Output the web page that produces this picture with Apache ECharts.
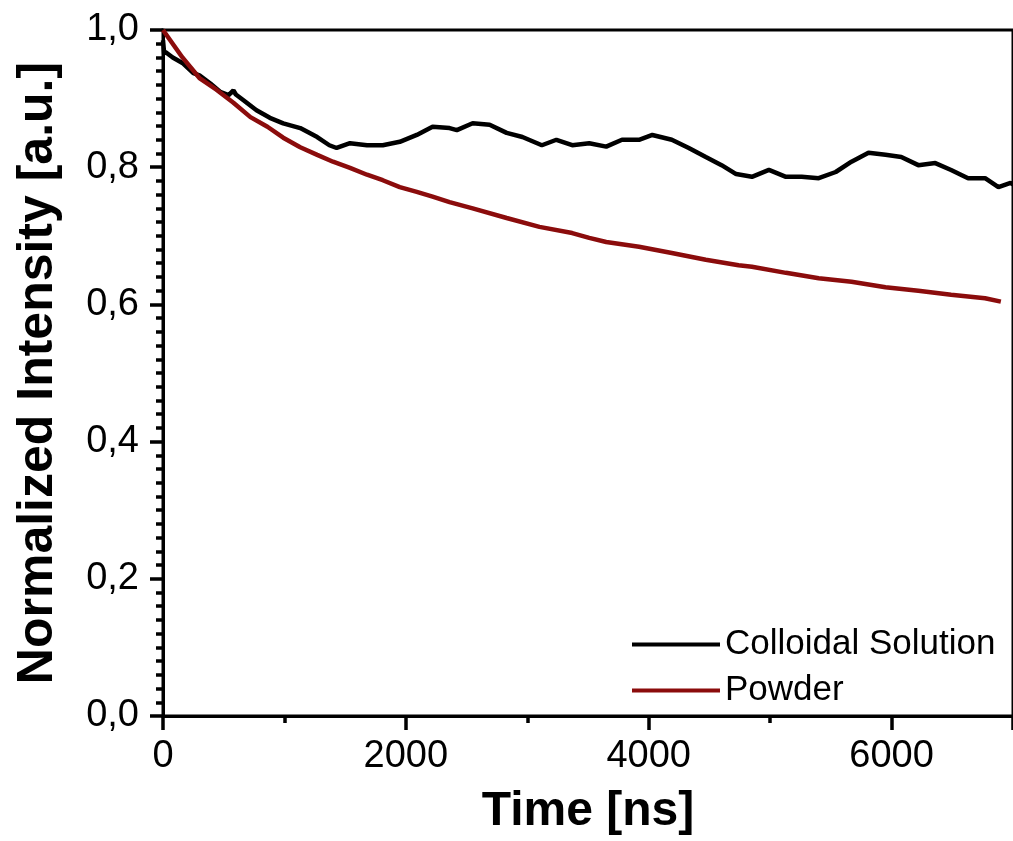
<!DOCTYPE html>
<html>
<head>
<meta charset="utf-8">
<script src="https://cdn.jsdelivr.net/npm/echarts@6/dist/echarts.min.js"></script>
<style>
  html, body { margin: 0; padding: 0; background: #fff; }
  #chart { width: 1013px; height: 841px; }
</style>
</head>
<body>
<div id="chart"></div>
<script>
// values
const colloidTime = [0, 10, 20, 80, 160, 250, 300, 390, 470, 540, 580, 600, 660, 770, 880, 990, 1130, 1270, 1370, 1430, 1540, 1680, 1810, 1950, 2090, 2220, 2360, 2420, 2550, 2690, 2830, 2960, 3120, 3240, 3370, 3510, 3650, 3780, 3920, 4030, 4190, 4330, 4470, 4600, 4720, 4850, 4990, 5130, 5260, 5400, 5540, 5670, 5810, 5950, 6080, 6220, 6360, 6490, 6630, 6770, 6880, 6980, 7000]
const colloid = [0.985, 0.965, 0.968, 0.960, 0.952, 0.937, 0.934, 0.922, 0.910, 0.905, 0.912, 0.906, 0.898, 0.883, 0.872, 0.864, 0.857, 0.844, 0.832, 0.828, 0.835, 0.832, 0.832, 0.837, 0.847, 0.859, 0.857, 0.854, 0.864, 0.862, 0.850, 0.844, 0.832, 0.840, 0.832, 0.835, 0.830, 0.840, 0.840, 0.847, 0.840, 0.828, 0.815, 0.803, 0.790, 0.786, 0.796, 0.786, 0.786, 0.784, 0.793, 0.808, 0.821, 0.818, 0.815, 0.803, 0.806, 0.796, 0.784, 0.784, 0.771, 0.777, 0.775]

const powderTime = [0, 20, 160, 300, 440, 580, 720, 860, 990, 1130, 1270, 1400, 1540, 1680, 1810, 1950, 2090, 2220, 2360, 2550, 2830, 3100, 3370, 3510, 3650, 3920, 4190, 4470, 4740, 4850, 5130, 5400, 5670, 5950, 6220, 6490, 6770, 6900]
const powder = [1.0, 0.995, 0.960, 0.930, 0.913, 0.894, 0.873, 0.859, 0.843, 0.829, 0.818, 0.808, 0.799, 0.789, 0.781, 0.771, 0.764, 0.757, 0.749, 0.740, 0.726, 0.713, 0.704, 0.697, 0.691, 0.684, 0.675, 0.665, 0.657, 0.655, 0.646, 0.638, 0.633, 0.625, 0.620, 0.614, 0.609, 0.604]

const seriesNames = ['Colloidal Solution', 'Powder']
const seriesColors = ['#000000', '#8b0c0c']

const fontFamily = 'Arial, "Liberation Sans", sans-serif'

const chart = echarts.init(document.getElementById('chart'))

const option = {
  animation: false,
  backgroundColor: '#fff',
  grid: {
    left: 163,
    right: -1,
    top: 30,
    bottom: 125,
    show: true,
    borderColor: '#000',
    borderWidth: 3
  },
  legend: {
    orient: 'vertical',
    left: 627,
    top: 622,
    itemGap: 11,
    itemWidth: 88,
    itemHeight: 4,
    icon: 'rect',
    textStyle: { fontFamily: fontFamily, fontSize: 35, color: '#000' },
    data: seriesNames
  },
  xAxis: {
    type: 'value',
    min: 0,
    max: 7000,
    interval: 2000,
    name: 'Time [ns]',
    nameLocation: 'middle',
    nameGap: 72,
    nameTextStyle: { fontFamily: fontFamily, fontSize: 48, fontWeight: 'bold', color: '#000' },
    axisLine: { show: true, lineStyle: { color: '#000', width: 3 } },
    axisTick: { show: true, length: 14, lineStyle: { color: '#000', width: 3.5 } },
    minorTick: { show: true, splitNumber: 2, length: 7, lineStyle: { color: '#000', width: 3.5 } },
    axisLabel: {
      margin: 22,
      fontFamily: fontFamily,
      fontSize: 38,
      color: '#000',
      showMaxLabel: false,
      formatter: v => String(v)
    },
    splitLine: { show: false }
  },
  yAxis: {
    type: 'value',
    min: 0,
    max: 1,
    interval: 0.2,
    name: 'Normalized Intensity [a.u.]',
    nameLocation: 'middle',
    nameGap: 100,
    nameTextStyle: { fontFamily: fontFamily, fontSize: 50, fontWeight: 'bold', color: '#000' },
    axisLine: { show: true, lineStyle: { color: '#000', width: 3 } },
    axisTick: { show: true, length: 13, lineStyle: { color: '#000', width: 3.5 } },
    minorTick: { show: true, splitNumber: 10, length: 7, lineStyle: { color: '#000', width: 3.5 } },
    axisLabel: {
      margin: 24,
      fontFamily: fontFamily,
      fontSize: 38,
      color: '#000',
      formatter: v => v.toFixed(1).replace('.', ',')
    },
    splitLine: { show: false }
  },
  series: [
    {
      name: seriesNames[0],
      type: 'line',
      showSymbol: false,
      symbol: 'none',
      color: seriesColors[0],
      lineStyle: { width: 4.5, color: seriesColors[0] },
      data: colloidTime.map((t, i) => [t, colloid[i]])
    },
    {
      name: seriesNames[1],
      type: 'line',
      showSymbol: false,
      symbol: 'none',
      color: seriesColors[1],
      lineStyle: { width: 4.5, color: seriesColors[1] },
      data: powderTime.map((t, i) => [t, powder[i]])
    }
  ]
}

chart.setOption(option)
</script>
</body>
</html>
